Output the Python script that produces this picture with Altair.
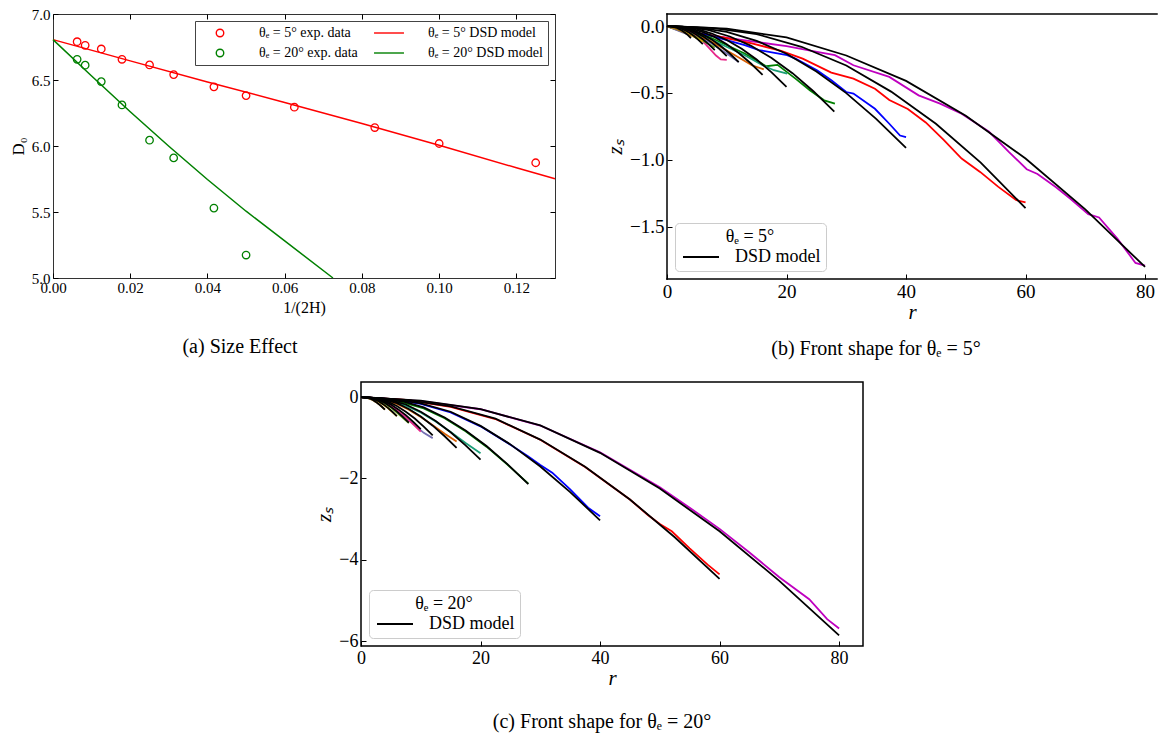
import altair as alt
import pandas as pd

FONT = "Liberation Serif"

# ---------------- panel (a): size effect ----------------
A_INV2H = [0.00625, 0.00833, 0.0125, 0.01786, 0.025, 0.03125, 0.04167, 0.05, 0.0625, 0.08333, 0.1, 0.125]
A_D0_5 = [6.79, 6.763, 6.735, 6.657, 6.614, 6.541, 6.448, 6.382, 6.294, 6.14, 6.019, 5.873]
A_D0_20 = [6.657, 6.612, 6.488, 6.311, 6.044, 5.910, 5.530, 5.174]
A_M5_X = [0, 0.02, 0.04, 0.06, 0.08, 0.10, 0.12, 0.13]
A_M5_Y = [6.806, 6.645, 6.485, 6.330, 6.170, 6.005, 5.835, 5.752]
A_M20_X = [0, 0.01, 0.02, 0.03, 0.04, 0.05, 0.06, 0.0725]
A_M20_Y = [6.806, 6.530, 6.260, 5.998, 5.746, 5.506, 5.281, 5.0]
A_XTICKS = [0, 0.02, 0.04, 0.06, 0.08, 0.10, 0.12]
A_YTICKS = [5.0, 5.5, 6.0, 6.5, 7.0]
A_LEGEND = ["θₑ = 5° exp. data", "θₑ = 20° exp. data", "θₑ = 5° DSD model", "θₑ = 20° DSD model"]
A_COLORS = ["#ff0000", "#008000", "#ff0000", "#008000"]

# ---------------- panels (b), (c): front shapes ----------------
SIZES = ["80", "60", "40", "28", "20", "16", "12", "10", "8", "6", "4"]
SIZE_COLORS = ["#bf00bf", "#ff0000", "#0000ff", "#008000", "#1b9e77", "#d95f02",
               "#7570b3", "#e7298a", "#66a61e", "#e6ab02", "#a6761d"]

R80 = [0, 10, 20, 30, 40, 50, 60, 70, 80]
R60 = [0, 7.5, 15, 22.5, 30, 37.5, 45, 52.5, 60]
R40 = [0, 5, 10, 15, 20, 25, 30, 35, 40]
R28 = [0, 3.5, 7, 10.5, 14, 17.5, 21, 24.5, 28]
R20 = [0, 2.5, 5, 7.5, 10, 12.5, 15, 17.5, 20]
R16 = [0, 2, 4, 6, 8, 10, 12, 14, 16]
R12 = [0, 1.5, 3, 4.5, 6, 7.5, 9, 10.5, 12]
R10 = [0, 1.25, 2.5, 3.75, 5, 6.25, 7.5, 8.75, 10]
R8 = [0, 1, 2, 3, 4, 5, 6, 7, 8]
R6 = [0, 0.75, 1.5, 2.25, 3, 3.75, 4.5, 5.25, 6]
R4 = [0, 0.5, 1, 1.5, 2, 2.5, 3, 3.5, 4]
R_GRIDS = [R80, R60, R40, R28, R20, R16, R12, R10, R8, R6, R4]

# (b) DSD model, theta_e = 5 deg
B_DSD_80 = [0, -0.020, -0.085, -0.220, -0.410, -0.670, -0.990, -1.370, -1.800]
B_DSD_60 = [0, -0.014, -0.060, -0.155, -0.295, -0.490, -0.730, -1.020, -1.360]
B_DSD_40 = [0, -0.010, -0.043, -0.111, -0.207, -0.339, -0.501, -0.693, -0.910]
B_DSD_28 = [0, -0.007, -0.030, -0.078, -0.146, -0.238, -0.352, -0.487, -0.640]
B_DSD_20 = [0, -0.005, -0.021, -0.056, -0.104, -0.169, -0.250, -0.346, -0.455]
B_DSD_16 = [0, -0.004, -0.017, -0.045, -0.083, -0.136, -0.201, -0.278, -0.365]
B_DSD_12 = [0, -0.003, -0.013, -0.033, -0.062, -0.100, -0.149, -0.205, -0.270]
B_DSD_10 = [0, -0.002, -0.011, -0.027, -0.051, -0.084, -0.124, -0.171, -0.225]
B_DSD_8 = [0, -0.002, -0.008, -0.022, -0.041, -0.067, -0.099, -0.137, -0.180]
B_DSD_6 = [0, -0.001, -0.006, -0.016, -0.031, -0.050, -0.074, -0.103, -0.135]
B_DSD_4 = [0, -0.001, -0.004, -0.011, -0.021, -0.033, -0.050, -0.068, -0.090]
B_DSD = [B_DSD_80, B_DSD_60, B_DSD_40, B_DSD_28, B_DSD_20, B_DSD_16,
         B_DSD_12, B_DSD_10, B_DSD_8, B_DSD_6, B_DSD_4]

# (b) experimental fronts, (r, z_s)
B_EXP_80 = [(0, 0), (2.5, -0.035), (7.0, -0.068), (14.8, -0.118), (20, -0.150), (25.1, -0.193),
            (28.1, -0.218), (31.2, -0.293), (37.2, -0.38), (42.1, -0.518), (45.7, -0.58),
            (49.3, -0.655), (53.9, -0.79), (57.2, -0.94), (60.2, -1.07), (62.0, -1.105),
            (65.1, -1.205), (67.5, -1.29), (70.5, -1.405), (72.3, -1.43), (75.4, -1.59),
            (78.4, -1.77), (80, -1.79)]
B_EXP_60 = [(0, 0), (2.5, -0.035), (8.8, -0.08), (14.2, -0.13), (19.1, -0.185), (22.7, -0.243),
            (27.5, -0.348), (31.2, -0.393), (34.8, -0.468), (37.2, -0.553), (40.3, -0.62),
            (43.3, -0.72), (46.3, -0.85), (49.3, -0.99), (52.4, -1.09), (55.4, -1.20),
            (58.4, -1.30), (60, -1.318)]
B_EXP_40 = [(0, 0), (2.5, -0.035), (7.0, -0.068), (13.0, -0.143), (15.4, -0.18), (20.1, -0.218),
            (21.5, -0.243), (25.1, -0.33), (27.5, -0.405), (30.0, -0.493), (31.2, -0.505),
            (34.8, -0.618), (37.2, -0.73), (39.0, -0.818), (40, -0.83)]
B_EXP_28 = [(0, 0), (2.5, -0.04), (7, -0.08), (13, -0.205), (16.6, -0.30), (18.5, -0.29),
            (21.5, -0.393), (23.9, -0.48), (26.3, -0.555), (28.1, -0.58)]
B_EXP_20 = [(0, 0), (2.5, -0.04), (7, -0.093), (13, -0.218), (16, -0.293), (17.9, -0.33), (20.1, -0.355)]
B_EXP_16 = [(0, 0), (2.5, -0.04), (7, -0.105), (11.8, -0.23), (14.2, -0.293), (16.2, -0.323)]
B_EXP_12 = [(0, 0), (2.5, -0.045), (7, -0.118), (10, -0.205), (12, -0.268)]
B_EXP_10 = [(0, 0), (2, -0.02), (4.3, -0.045), (5.7, -0.10), (7.1, -0.167), (8.2, -0.22),
            (9.0, -0.249), (10, -0.252)]
B_EXP_8 = [(0, 0), (2, -0.025), (4, -0.06), (6, -0.11), (8, -0.16)]
B_EXP_6 = [(0, 0), (1.5, -0.02), (3, -0.045), (4.5, -0.08), (6, -0.115)]
B_EXP_4 = [(0, 0), (1, -0.012), (2, -0.03), (3, -0.05), (4, -0.075)]
B_EXP = [B_EXP_80, B_EXP_60, B_EXP_40, B_EXP_28, B_EXP_20, B_EXP_16,
         B_EXP_12, B_EXP_10, B_EXP_8, B_EXP_6, B_EXP_4]

# (c) DSD model, theta_e = 20 deg
C_DSD_80 = [0, -0.088, -0.299, -0.697, -1.371, -2.250, -3.299, -4.518, -5.860]
C_DSD_60 = [0, -0.067, -0.228, -0.532, -1.046, -1.716, -2.517, -3.446, -4.470]
C_DSD_40 = [0, -0.045, -0.155, -0.361, -0.709, -1.164, -1.706, -2.336, -3.030]
C_DSD_28 = [0, -0.032, -0.109, -0.255, -0.501, -0.822, -1.205, -1.650, -2.140]
C_DSD_20 = [0, -0.023, -0.079, -0.183, -0.360, -0.591, -0.867, -1.187, -1.540]
C_DSD_16 = [0, -0.019, -0.064, -0.149, -0.293, -0.480, -0.704, -0.964, -1.250]
C_DSD_12 = [0, -0.014, -0.048, -0.112, -0.220, -0.361, -0.529, -0.725, -0.940]
C_DSD_10 = [0, -0.012, -0.040, -0.094, -0.185, -0.303, -0.445, -0.609, -0.790]
C_DSD_8 = [0, -0.009, -0.032, -0.075, -0.147, -0.242, -0.355, -0.486, -0.630]
C_DSD_6 = [0, -0.007, -0.024, -0.056, -0.110, -0.180, -0.265, -0.362, -0.470]
C_DSD_4 = [0, -0.005, -0.016, -0.037, -0.073, -0.119, -0.175, -0.239, -0.310]
C_DSD = [C_DSD_80, C_DSD_60, C_DSD_40, C_DSD_28, C_DSD_20, C_DSD_16,
         C_DSD_12, C_DSD_10, C_DSD_8, C_DSD_6, C_DSD_4]

# (c) experimental fronts
C_EXP_80 = [(0, 0), (10, -0.10), (20, -0.30), (30, -0.70), (40, -1.36), (50, -2.22), (55, -2.72),
            (60, -3.24), (65, -3.82), (70, -4.43), (75, -4.97), (78, -5.46), (80, -5.69)]
C_EXP_60 = [(0, 0), (7.5, -0.07), (15, -0.24), (22.5, -0.54), (30, -1.05), (37.5, -1.72), (45, -2.52),
            (48, -2.90), (50, -3.12), (52, -3.30), (55, -3.72), (58, -4.12), (60, -4.36)]
C_EXP_40 = [(0, 0), (5, -0.05), (10, -0.17), (15, -0.38), (20, -0.72), (25, -1.17), (28, -1.46),
            (30, -1.67), (32, -1.86), (35, -2.27), (38, -2.72), (40, -2.93)]
C_EXP_28 = list(zip(R28, [0, -0.04, -0.13, -0.28, -0.52, -0.84, -1.22, -1.66, -2.13]))
C_EXP_20 = list(zip(R20, [0, -0.03, -0.10, -0.21, -0.38, -0.60, -0.86, -1.13, -1.38]))
C_EXP_16 = list(zip(R16, [0, -0.025, -0.08, -0.17, -0.31, -0.49, -0.69, -0.90, -1.09]))
C_EXP_12 = list(zip(R12, [0, -0.03, -0.09, -0.19, -0.33, -0.50, -0.69, -0.88, -1.01]))
C_EXP_10 = list(zip(R10, [0, -0.01, -0.04, -0.10, -0.20, -0.33, -0.49, -0.67, -0.85]))
C_EXP_8 = list(zip(R8, [0, -0.01, -0.04, -0.09, -0.16, -0.26, -0.38, -0.51, -0.64]))
C_EXP_6 = list(zip(R6, [0, -0.01, -0.03, -0.065, -0.12, -0.19, -0.27, -0.37, -0.47]))
C_EXP_4 = list(zip(R4, [0, -0.006, -0.02, -0.045, -0.08, -0.125, -0.18, -0.24, -0.31]))
C_EXP = [C_EXP_80, C_EXP_60, C_EXP_40, C_EXP_28, C_EXP_20, C_EXP_16,
         C_EXP_12, C_EXP_10, C_EXP_8, C_EXP_6, C_EXP_4]

R_TICKS = [0, 20, 40, 60, 80]
B_YTICKS = [0.0, -0.5, -1.0, -1.5]
C_YTICKS = [0, -2, -4, -6]

CAPTIONS = ["(a) Size Effect", "(b) Front shape for θₑ = 5°", "(c) Front shape for θₑ = 20°"]


# ---------------- build tables ----------------
def pairs_table(curves):
    rows = []
    for name, pts in zip(SIZES, curves):
        for r, z in pts:
            rows.append({"r": r, "z": z, "size": name})
    return pd.DataFrame(rows)


def grid_table(curves):
    rows = []
    for name, rs, zs in zip(SIZES, R_GRIDS, curves):
        for r, z in zip(rs, zs):
            rows.append({"r": r, "z": z, "size": name, "model": "DSD model"})
    return pd.DataFrame(rows)


pts_a = pd.DataFrame({
    "x": A_INV2H + A_INV2H[:len(A_D0_20)],
    "y": A_D0_5 + A_D0_20,
    "series": [A_LEGEND[0]] * len(A_D0_5) + [A_LEGEND[1]] * len(A_D0_20),
})
lin_a = pd.DataFrame({
    "x": A_M5_X + A_M20_X,
    "y": A_M5_Y + A_M20_Y,
    "series": [A_LEGEND[2]] * len(A_M5_X) + [A_LEGEND[3]] * len(A_M20_X),
})

TICK = dict(tickSize=5, offset=-5, domain=False, grid=False, tickColor="black", tickWidth=1,
            labelFlush=False)
CAP = dict(orient="bottom", anchor="middle", fontSize=20, font=FONT, fontWeight="normal", color="black")

# ---------------- panel (a) ----------------
WA, HA = 502, 264
xs_a = alt.Scale(domain=[0, 0.13], nice=False, zero=False)
ys_a = alt.Scale(domain=[5.0, 7.0], nice=False, zero=False)
leg_a = alt.Legend(
    title=None, orient="top-right", offset=7, columns=2, columnPadding=11,
    rowPadding=6, padding=5, symbolOffset=13, labelOffset=32,
    labelFont=FONT, labelFontSize=14, labelLimit=0, labelColor="black",
    symbolSize=56, symbolStrokeWidth=1.4, strokeColor="#444444",
    fillColor="white", cornerRadius=0,
    symbolType={"expr": "indexof(datum.value, 'DSD') >= 0 ? 'M-4,0L4,0' : 'circle'"},
)

pt_layer = alt.Chart(pts_a).mark_point(filled=False, size=56, strokeWidth=1.3, opacity=1).encode(
    x=alt.X("x:Q", scale=xs_a, axis=alt.Axis(values=A_XTICKS, format=".2f", title="1/(2H)",
                                               labelFontSize=15, titleFontSize=16, labelPadding=2,
                                               titlePadding=4, **TICK)),
    y=alt.Y("y:Q", scale=ys_a, axis=alt.Axis(values=A_YTICKS, format=".1f", title="D₀",
                                               labelFontSize=15, titleFontSize=17, labelPadding=3,
                                               titlePadding=4, **TICK)),
    color=alt.Color("series:N", scale=alt.Scale(domain=A_LEGEND, range=A_COLORS), legend=leg_a),
)
ln_layer = alt.Chart(lin_a).mark_line(strokeWidth=1.5).encode(
    x=alt.X("x:Q", scale=xs_a, axis=alt.Axis(orient="top", values=A_XTICKS, labels=False, title=None, **TICK)),
    y=alt.Y("y:Q", scale=ys_a, axis=alt.Axis(orient="right", values=A_YTICKS, labels=False, title=None, **TICK)),
    stroke=alt.Stroke("series:N", scale=alt.Scale(domain=A_LEGEND, range=A_COLORS), legend=None),
    detail="series:N",
)
chart_a = alt.layer(ln_layer, pt_layer).resolve_axis(x="independent", y="independent").resolve_scale(
    stroke="independent", color="independent").properties(
    width=WA, height=HA,
    view=alt.ViewBackground(stroke="#333333", strokeWidth=1),
    title=alt.TitleParams(CAPTIONS[0], dx=-64, offset=22, **CAP),
)


# ---------------- panels (b) and (c) ----------------
def front_panel(exp_curves, dsd_curves, width, height, xdom, ydom, yticks, yfmt, label_size,
                legend_title, caption, cap_dx, cap_offset, frame_rules):
    xs = alt.Scale(domain=xdom, nice=False, zero=False)
    ys = alt.Scale(domain=ydom, nice=False, zero=False)
    xax = alt.Axis(values=R_TICKS, format="d", title="r", titleFontStyle="italic",
                   labelFontSize=label_size, titleFontSize=21, labelPadding=3, titlePadding=0, **TICK)
    yax = alt.Axis(values=yticks, format=yfmt, title="zₛ", titleFontStyle="italic",
                   labelFontSize=label_size, titleFontSize=21, labelPadding=3, titlePadding=4, **TICK)
    exp = alt.Chart(pairs_table(exp_curves)).mark_line(strokeWidth=1.8).encode(
        x=alt.X("r:Q", scale=xs, axis=xax),
        y=alt.Y("z:Q", scale=ys, axis=yax),
        color=alt.Color("size:N", scale=alt.Scale(domain=SIZES, range=SIZE_COLORS), legend=None),
    )
    leg = alt.Legend(title=legend_title, orient="bottom-left", offset=8, titleAnchor="middle",
                     titleFont=FONT, titleFontSize=18, titleFontWeight="normal", titleColor="black",
                     labelFont=FONT, labelFontSize=18, labelColor="black",
                     symbolType="M-3,0L3,0", symbolSize=144, symbolOffset=12,
                     symbolStrokeWidth=2, labelOffset=25,
                     strokeColor="#cccccc", fillColor="white", cornerRadius=4, padding=5,
                     titlePadding=2)
    dsd = alt.Chart(grid_table(dsd_curves)).mark_line(strokeWidth=1.8).encode(
        x=alt.X("r:Q", scale=xs),
        y=alt.Y("z:Q", scale=ys),
        detail="size:N",
        stroke=alt.Stroke("model:N", scale=alt.Scale(domain=["DSD model"], range=["black"]), legend=leg),
    )
    layers = [exp, dsd]
    if frame_rules:
        one = pd.DataFrame({"k": [0]})
        rule = dict(color="black", strokeWidth=1.5, strokeCap="square")
        layers += [
            alt.Chart(one).mark_rule(**rule).encode(x=alt.value(0), x2=alt.value(width), y=alt.value(0)),
            alt.Chart(one).mark_rule(**rule).encode(x=alt.value(0), x2=alt.value(width), y=alt.value(height)),
            alt.Chart(one).mark_rule(**rule).encode(x=alt.value(0), y=alt.value(0), y2=alt.value(height)),
        ]
        view = alt.ViewBackground(stroke=None)
    else:
        view = alt.ViewBackground(stroke="black", strokeWidth=1.5)
    return alt.layer(*layers).resolve_scale(color="independent", stroke="independent").properties(
        width=width, height=height, view=view,
        title=alt.TitleParams(caption, dx=cap_dx, offset=cap_offset, **CAP),
    )


chart_b = front_panel(B_EXP, B_DSD, 490, 265, [0, 82], [-1.89, 0.09], B_YTICKS, ".1f", 19,
                      "θₑ = 5°", CAPTIONS[1], -36, 17, True)
chart_c = front_panel(C_EXP, C_DSD, 502, 264, [0, 84], [-6.12, 0.37], C_YTICKS, "d", 18,
                      "θₑ = 20°", CAPTIONS[2], -10, 24, False)

# empty block that sets the left offset of panel (c)
spacer = alt.Chart(pd.DataFrame({"k": [0]})).mark_point(opacity=0).encode(
    x=alt.value(0), y=alt.value(0)
).properties(width=308, height=10, view=alt.ViewBackground(stroke=None, fill="white"))

INDEP = dict(color="independent", stroke="independent", shape="independent")
top_row = alt.hconcat(chart_a, chart_b, spacing=112, bounds="flush").resolve_scale(**INDEP)
bottom_row = alt.hconcat(spacer, chart_c, spacing=0, bounds="flush").resolve_scale(**INDEP)
chart = alt.vconcat(top_row, bottom_row, spacing=20).resolve_scale(**INDEP).properties(
    padding={"left": 0, "top": -2, "right": 0, "bottom": 0},
    background="white",
).configure_axis(
    labelFont=FONT, titleFont=FONT, labelColor="black", titleColor="black",
    titleFontWeight="normal", grid=False,
).configure_legend(labelFont=FONT, titleFont=FONT)

chart.save("out.html", embed_options={"renderer": "svg", "actions": False})
